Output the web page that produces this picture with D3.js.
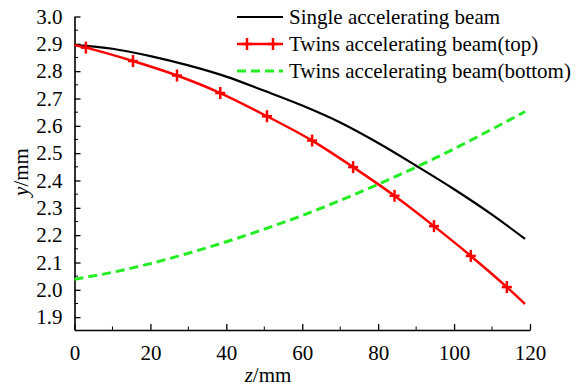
<!DOCTYPE html>
<html>
<head>
<meta charset="utf-8">
<script src="https://cdn.jsdelivr.net/npm/d3@7"></script>
<style>
  body { margin: 0; background: #fff; }
  svg { display: block; }
  svg text { font-family: "Liberation Serif", "Times New Roman", serif; fill: #000; }
</style>
</head>
<body>
<div id="chart"></div>
<script>
// data
var zSingle = [0, 10, 20, 30, 40, 50, 60, 70, 80, 90, 100, 110, 118.7];
var ySingle = [2.895, 2.882, 2.855, 2.821, 2.78, 2.728, 2.674, 2.612, 2.537, 2.454, 2.368, 2.275, 2.186];

var zTop = [0, 3.0, 15.4, 27.0, 38.4, 50.7, 62.6, 73.4, 84.3, 94.7, 104.4, 113.9, 118.7];
var yTop = [2.896, 2.886, 2.837, 2.784, 2.72, 2.635, 2.546, 2.449, 2.344, 2.233, 2.124, 2.01, 1.948];

var zBottom = [0, 10, 20, 30, 40, 50, 60, 70, 80, 90, 100, 110, 118.7];
var yBottom = [2.039, 2.064, 2.096, 2.134, 2.176, 2.222, 2.272, 2.327, 2.386, 2.449, 2.516, 2.588, 2.652];

var xTicks = [0, 20, 40, 60, 80, 100, 120];
var xMinor = [10, 30, 50, 70, 90, 110];
var yTicks = [1.9, 2.0, 2.1, 2.2, 2.3, 2.4, 2.5, 2.6, 2.7, 2.8, 2.9, 3.0];
var yMinor = [1.95, 2.05, 2.15, 2.25, 2.35, 2.45, 2.55, 2.65, 2.75, 2.85, 2.95];

var legendNames = ["Single accelerating beam", "Twins accelerating beam(top)", "Twins accelerating beam(bottom)"];
var colors = ["#000000", "#ff0000", "#22ee22"];

var width = 577, height = 387;

var svg = d3.select("#chart").append("svg")
  .attr("width", width)
  .attr("height", height);

var x = d3.scaleLinear().domain([0, 120]).range([74.5, 530]);
var y = d3.scaleLinear().domain([1.853, 3.0]).range([330, 16.5]);

function pairs(zs, ys) {
  return zs.map(function(z, i) { return [z, ys[i]]; });
}

var line = d3.line()
  .x(function(d) { return x(d[0]); })
  .y(function(d) { return y(d[1]); })
  .curve(d3.curveMonotoneX);

// axes
var xAxis = svg.append("g")
  .attr("transform", "translate(0,330)")
  .call(d3.axisBottom(x).tickValues(xTicks).tickSize(-6).tickPadding(15).tickSizeOuter(0));
xAxis.append("g").selectAll("line")
  .data(xMinor)
  .enter().append("line")
  .attr("x1", function(d) { return x(d); })
  .attr("x2", function(d) { return x(d); })
  .attr("y1", 0).attr("y2", -3.5)
  .attr("stroke", "#000");

var yAxis = svg.append("g")
  .attr("transform", "translate(74.5,0)")
  .call(d3.axisLeft(y).tickValues(yTicks).tickFormat(d3.format(".1f")).tickSize(-6).tickPadding(12).tickSizeOuter(0));
yAxis.append("g").selectAll("line")
  .data(yMinor)
  .enter().append("line")
  .attr("y1", function(d) { return y(d); })
  .attr("y2", function(d) { return y(d); })
  .attr("x1", 0).attr("x2", 3.5)
  .attr("stroke", "#000");

svg.selectAll("g").attr("font-family", "Liberation Serif");
svg.selectAll(".domain").attr("stroke", "#000").attr("stroke-width", 1.6);
svg.selectAll(".tick line").attr("stroke", "#000").attr("stroke-width", 1.3);
svg.selectAll(".tick text")
  .attr("fill", "#000")
  .attr("font-family", "Liberation Serif")
  .style("font-size", "21px");

// axis titles
var xt = svg.append("text")
  .attr("x", 268).attr("y", 382)
  .attr("text-anchor", "middle")
  .style("font-size", "21px");
xt.append("tspan").style("font-style", "italic").text("z");
xt.append("tspan").text("/mm");

var yt = svg.append("text")
  .attr("transform", "translate(28,172) rotate(-90)")
  .attr("text-anchor", "middle")
  .style("font-size", "21px");
yt.append("tspan").style("font-style", "italic").text("y");
yt.append("tspan").text("/mm");

// curves
svg.append("path")
  .datum(pairs(zSingle, ySingle))
  .attr("d", line)
  .attr("fill", "none")
  .attr("stroke", colors[0])
  .attr("stroke-width", 2.2);

svg.append("path")
  .datum(pairs(zBottom, yBottom))
  .attr("d", line)
  .attr("fill", "none")
  .attr("stroke", colors[2])
  .attr("stroke-width", 3)
  .attr("stroke-dasharray", "9,5");

var topData = pairs(zTop, yTop);
svg.append("path")
  .datum(topData)
  .attr("d", line)
  .attr("fill", "none")
  .attr("stroke", colors[1])
  .attr("stroke-width", 2.5);

function drawPlus(g, cx, cy) {
  g.append("line").attr("x1", cx - 5).attr("x2", cx + 5).attr("y1", cy).attr("y2", cy);
  g.append("line").attr("x1", cx).attr("x2", cx).attr("y1", cy - 6).attr("y2", cy + 6);
}
var markers = svg.append("g").attr("stroke", colors[1]).attr("stroke-width", 2.5);
topData.slice(1, -1).forEach(function(d) {
  drawPlus(markers, x(d[0]), y(d[1]));
});

// legend
var legend = svg.append("g");
var rowY = [17, 44, 71];
legendNames.forEach(function(name, i) {
  var l = legend.append("line")
    .attr("x1", 237).attr("x2", 283)
    .attr("y1", rowY[i]).attr("y2", rowY[i])
    .attr("stroke", colors[i])
    .attr("stroke-width", i === 2 ? 3 : (i === 1 ? 2.5 : 2.2));
  if (i === 2) l.attr("stroke-dasharray", "9,5");
  if (i === 1) {
    var lg = legend.append("g").attr("stroke", colors[1]).attr("stroke-width", 2.5);
    drawPlus(lg, 247, rowY[i]);
    drawPlus(lg, 273, rowY[i]);
  }
  legend.append("text")
    .attr("x", 289).attr("y", rowY[i] + 7)
    .style("font-size", "21px")
    .text(name);
});
</script>
</body>
</html>
